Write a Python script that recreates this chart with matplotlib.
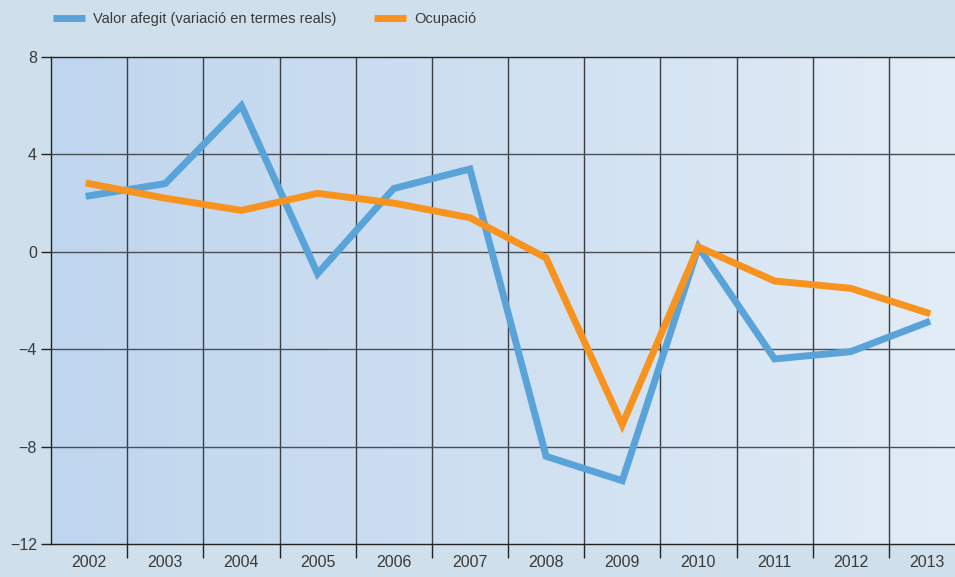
import numpy as np
import matplotlib
matplotlib.use("Agg")
import matplotlib.pyplot as plt
from matplotlib.colors import LinearSegmentedColormap

plt.rcParams['font.family'] = ['Liberation Sans', 'DejaVu Sans']

years = ['2002', '2003', '2004', '2005', '2006', '2007',
         '2008', '2009', '2010', '2011', '2012', '2013']
valor_afegit = [2.3, 2.8, 6.0, -0.9, 2.6, 3.4, -8.4, -9.4, 0.2, -4.4, -4.1, -2.9]
ocupacio = [2.8, 2.2, 1.7, 2.4, 2.0, 1.4, -0.25, -7.1, 0.2, -1.2, -1.5, -2.5]
y_ticks = [8, 4, 0, -4, -8, -12]
y_tick_labels = ['8', '4', '0', '\u22124', '\u22128', '\u221212']

label_valor = 'Valor afegit (variació en termes reals)'
label_ocup = 'Ocupació'

blue = '#5aa3d9'
orange = '#f7931e'
text_col = '#3a3a3a'
bg = '#cfe0ec'

W, H = 955, 577
fig = plt.figure(figsize=(W / 100, H / 100), dpi=100, facecolor=bg)
left_px, right_px, top_px, bottom_px = 51, 965, 57, 544
ax = fig.add_axes([left_px / W, 1 - bottom_px / H,
                   (right_px - left_px) / W, (bottom_px - top_px) / H])

x = np.arange(len(years))
ax.set_xlim(-0.5, len(years) - 0.5)
ax.set_ylim(-12, 8)

# horizontal gradient behind the plot
cmap = LinearSegmentedColormap.from_list('bg', ['#c0d6ee', '#cfe0f1', '#e3edf7'])
grad = np.linspace(0, 1, 256).reshape(1, -1)
ax.imshow(grad, extent=[0, 1, 0, 1], transform=ax.transAxes, cmap=cmap,
          aspect='auto', zorder=0)

# grid
for b in np.arange(0.5, len(years) - 0.5, 1):
    ax.axvline(b, color='#3a3d44', lw=1.0, zorder=1)
for yv in y_ticks[1:-1]:
    ax.axhline(yv, color='#4a4e55', lw=1.0, zorder=1)

ax.plot(x, valor_afegit, color=blue, lw=5.0, solid_joinstyle='miter',
        label=label_valor, zorder=3)
ax.plot(x, ocupacio, color=orange, lw=5.0, solid_joinstyle='miter',
        label=label_ocup, zorder=3)

for s in ['left', 'top', 'bottom']:
    ax.spines[s].set_color('#222222')
    ax.spines[s].set_linewidth(1.0)
ax.spines['right'].set_visible(False)

ax.set_yticks(y_ticks)
ax.set_yticklabels(y_tick_labels)
ax.set_xticks(x)
ax.set_xticklabels(years)
ax.set_xticks(np.arange(0.5, len(years) - 0.5, 1), minor=True)
ax.tick_params(axis='x', which='major', length=0, pad=8, labelsize=11.5,
               labelcolor=text_col)
ax.tick_params(axis='x', which='minor', length=10, width=1, color='#222222',
               direction='out')
ax.tick_params(axis='y', which='major', length=7, width=1, color='#222222',
               pad=3, labelsize=11.5, labelcolor=text_col)

handles, labels = ax.get_legend_handles_labels()
leg = fig.legend(handles, labels, loc='center left',
                 bbox_to_anchor=(53 / W, 1 - 19 / H), ncol=2, frameon=False,
                 borderpad=0, borderaxespad=0,
                 handlelength=2.2, handletextpad=0.55, columnspacing=2.6,
                 fontsize=10.5)
for t in leg.get_texts():
    t.set_color(text_col)
for l in leg.get_lines():
    l.set_linewidth(5)
    l.set_solid_capstyle('butt')

fig.savefig('out.png', dpi=100, facecolor=bg)
